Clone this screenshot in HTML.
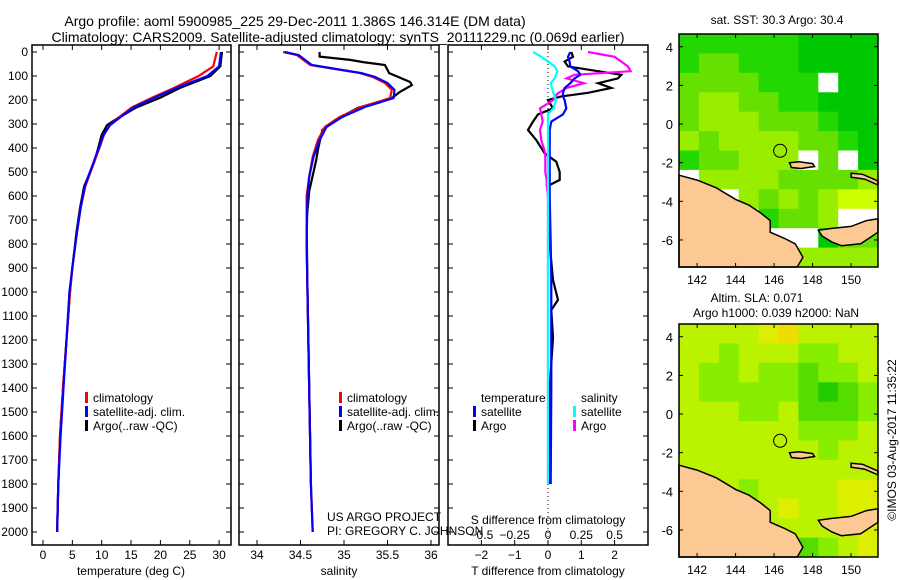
<!DOCTYPE html>
<html><head><meta charset="utf-8"><style>
body{margin:0;background:#fff;}
svg{display:block;font-family:"Liberation Sans",sans-serif;}
</style></head><body>
<svg id="s" width="900" height="580" viewBox="0 0 900 580">
<text x="295" y="26" font-size="14" text-anchor="middle">Argo profile: aoml 5900985_225 29-Dec-2011 1.386S 146.314E (DM data)</text>
<text x="338" y="42" font-size="14" text-anchor="middle">Climatology: CARS2009. Satellite-adjusted climatology: synTS_20111229.nc (0.069d earlier)</text>
<text x="777" y="24" font-size="12" text-anchor="middle">sat. SST: 30.3 Argo: 30.4</text>
<text x="757" y="302" font-size="12" text-anchor="middle">Altim. SLA: 0.071</text>
<text x="776" y="317" font-size="12" text-anchor="middle">Argo h1000: 0.039 h2000: NaN</text>
<text transform="translate(896,440) rotate(-90)" font-size="12" text-anchor="middle">©IMOS 03-Aug-2017 11:35:22</text>
<text x="327" y="521" font-size="12">US ARGO PROJECT</text>
<text x="327" y="535" font-size="12">PI: GREGORY C. JOHNSON</text>
</svg>
<script>
// ---- profile data ----
const depthTicks=[0,100,200,300,400,500,600,700,800,900,1000,1100,1200,1300,1400,1500,1600,1700,1800,1900,2000];
const tTicks=[0,5,10,15,20,25,30];
const sTicks=[34,34.5,35,35.5,36];
const tdTicks=[-2,-1,0,1,2];
const sdTicks=[-0.5,-0.25,0,0.25,0.5];
const tDepth=[0,60,100,150,190,230,275,305,345,400,460,560,650,750,900,1000,1200,1400,1600,1800,2000];
const tArgo=[30.5,30.2,28.5,23.3,20,16,12.8,10.9,10,9.4,8.7,7,6.3,5.7,5.0,4.6,4.0,3.4,2.9,2.6,2.4];
const tClim=[29.6,29,26.5,22.3,18.6,15.2,12.8,11.4,10.4,9.6,8.7,7.2,6.4,5.8,5.0,4.6,4.0,3.4,2.9,2.6,2.4];
const tSat=[30.3,30.0,28,22.7,19,15.5,13,11.4,10.3,9.5,8.6,7.1,6.4,5.8,5.0,4.5,4.0,3.5,3.0,2.6,2.4];
const sDepth=[0,13,54,88,104,129,158,192,229,271,312,367,437,520,600,800,1000,1400,1800,2000];
const sClim=[34.3,34.46,34.61,35.18,35.33,35.47,35.55,35.53,35.2,34.95,34.78,34.70,34.64,34.6,34.57,34.57,34.58,34.6,34.62,34.64];
const sSat=[34.32,34.48,34.63,35.2,35.36,35.5,35.58,35.57,35.24,34.98,34.8,34.72,34.65,34.6,34.58,34.57,34.58,34.6,34.62,34.64];
const saDepth=[0,19,33,42,54,88,125,138,167,192,233,283,325,408,450,580,700,1000,1400,1800];
const sArgo=[34.72,34.72,35.07,35.22,35.47,35.52,35.76,35.78,35.64,35.55,35.16,34.9,34.75,34.7,34.68,34.6,34.57,34.58,34.6,34.62];
const dDepth=[0,20,40,60,80,95,110,130,150,170,185,200,235,260,290,325,367,422,457,500,533,554,600,800,950,1033,1075,1190,1400,1800];
const tdArgo=[0.7,0.75,0.5,0.6,1.5,2.2,2.1,1.5,1.9,1.2,0.4,0.0,0.15,-0.3,-0.45,-0.6,-0.35,-0.1,0.25,0.35,0.35,0.05,0.0,0.05,0.15,0.3,0.1,0.15,0.05,0.03];
const tdSat=[0.67,0.6,0.65,0.67,0.9,0.97,0.8,0.67,0.5,0.45,0.45,0.5,0.55,0.45,0.1,0.05,0.05,0.05,0.05,0.05,0.05,0.05,0.05,0.08,0.1,0.1,0.1,0.1,0.1,0.08];
const sdArgo=[0.3,0.5,0.55,0.6,0.62,0.2,0.14,0.27,0.14,0.08,0.05,0.04,-0.06,-0.05,-0.04,-0.06,-0.05,-0.02,-0.02,-0.02,-0.01,-0.01,0,0,0,0,0,0,0,0];
const sdSat=[-0.11,-0.05,0.0,0.05,0.07,0.06,0.05,0.02,0.03,0.04,0.05,0.06,0.04,0.0,0.0,0.0,0.0,0.0,0.0,0.0,0.0,0.0,0.0,0.0,0.0,0.0,0.0,0.0,0.0,0.0];
// ---- map data (coarse grid, rows top->bottom, -1 = no data) ----
const sstRows=[
[1,1,1,1,1,1,0,0,0,0],[1,2,2,1,1,1,0,0,0,0],[2,2,2,2,1,1,1,-1,0,0],[2,3,3,2,2,1,1,0,0,0],
[2,3,3,3,2,2,2,1,0,0],[3,2,3,3,3,3,2,2,1,0],[1,2,2,3,3,3,-1,2,-1,0],[-1,3,3,3,3,2,2,2,2,3],
[2,2,-1,3,2,3,2,3,4,4],[2,2,2,-1,1,2,2,3,-1,-1],[2,2,2,2,-1,-1,-1,0,2,2],[2,2,2,2,2,-1,3,3,3,3]];
const slaRows=[
[3,3,3,3,4,5,3,3,3,3],[3,3,2,3,3,3,2,2,3,3],[3,2,2,3,2,2,1,2,2,3],[3,2,2,2,2,2,1,0,1,2],
[3,3,3,2,2,3,1,1,1,2],[3,3,3,3,3,3,2,2,2,3],[3,3,3,3,3,3,3,2,3,3],[3,3,3,3,3,3,3,3,3,3],
[3,3,3,2,3,3,3,3,4,4],[3,3,3,3,3,4,3,3,4,4],[3,3,3,3,3,3,3,3,3,4],[3,3,3,3,3,2,1,2,3,4]];
const latTicks=[4,2,0,-2,-4,-6];
const lonTicks=[142,144,146,148,150];
const argoPos=[146.314,-1.386];
const pngLand=[[141.06,-2.65],[142,-2.9],[143,-3.3],[144,-3.9],[144.7,-4.2],[145.3,-4.6],[145.8,-5.0],[145.8,-5.6],[146.5,-5.9],[147.1,-6.2],[147.5,-6.9],[147.2,-7.4],[141.06,-7.4]];
const nbLand=[[148.3,-5.5],[149,-5.4],[150,-5.3],[150.8,-5.0],[151.4,-4.9],[151.4,-5.6],[150.5,-6.2],[149.5,-6.3],[149,-6.1],[148.5,-5.8]];
const manus=[[146.8,-2.0],[147.3,-1.95],[148.0,-2.05],[148.1,-2.2],[147.4,-2.3],[146.9,-2.25]];
const nIre=[[150.0,-2.55],[150.6,-2.6],[151.4,-2.95],[151.4,-3.15],[150.7,-2.85],[150.0,-2.75]];

const S=document.getElementById('s');const NS='http://www.w3.org/2000/svg';
function mk(t,a,p){const e=document.createElementNS(NS,t);for(const k in a)e.setAttribute(k,a[k]);(p||S).appendChild(e);return e;}
const yTop=52,yBot=545;
function yD(d){return yTop+0.24*d;}
function xT(v){return 43+v*5.87;}
function xS(v){return 257+(v-34)*87;}
function xTd(v){return 548+v*33.3;}
function xSd(v){return 548+v*133.2;}
function box(x0,x1,name){const r=mk('rect',{x:x0,y:45,width:x1-x0,height:yBot-45,fill:'none',stroke:'#000','stroke-width':1.5});


depthTicks.forEach(d=>{mk('line',{x1:x0,x2:x0+5,y1:yD(d),y2:yD(d),stroke:'#000'});mk('line',{x1:x1-5,x2:x1,y1:yD(d),y2:yD(d),stroke:'#000'});});}
const P=[[32,231,'temperature-panel'],[239,439,'salinity-panel'],[448,648,'difference-panel']];
P.forEach(p=>box(p[0],p[1],p[2]));
depthTicks.forEach(d=>{const t=mk('text',{x:28,y:yD(d)+4,'font-size':12,'text-anchor':'end'});t.textContent=d;

});
function xticks(arr,fx,ty,fmt){arr.forEach(v=>{const x=fx(v);mk('line',{x1:x,x2:x,y1:45,y2:50,stroke:'#000'});mk('line',{x1:x,x2:x,y1:yBot-5,y2:yBot,stroke:'#000'});
const t=mk('text',{x:x,y:ty,'font-size':12,'text-anchor':'middle'});t.textContent=fmt?fmt(v):v;

});}
xticks(tTicks,xT,559);xticks(sTicks,xS,559);xticks(tdTicks,xTd,559,v=>v<0?'−'+(-v):v);
sdTicks.forEach(v=>{const t=mk('text',{x:xSd(v),y:539,'font-size':12,'text-anchor':'middle'});t.textContent=v<0?'−'+(-v):v;

});
[['temperature (deg C)',131,575,'temperature-axis-title'],['salinity',339,575,'salinity-axis-title'],['T difference from climatology',548,575,'t-diff-axis-title'],['S difference from climatology',548,524,'s-diff-axis-title']].forEach(a=>{
const t=mk('text',{x:a[1],y:a[2],'font-size':12,'text-anchor':'middle'});t.textContent=a[0];

});
mk('line',{x1:548,x2:548,y1:yTop,y2:yBot,stroke:'#000','stroke-dasharray':'1 3'});
function line(depths,vals,fx,col,name){const pts=depths.map((d,i)=>fx(vals[i]).toFixed(1)+','+yD(d).toFixed(1)).join(' ');
const e=mk('polyline',{points:pts,fill:'none',stroke:col,'stroke-width':2.2});

}
line(tDepth,tArgo,xT,'#000','temp-argo-line');line(tDepth,tClim,xT,'#f00','temp-clim-line');line(tDepth,tSat,xT,'#00f','temp-sat-line');
line(saDepth,sArgo,xS,'#000','sal-argo-line');line(sDepth,sClim,xS,'#f00','sal-clim-line');line(sDepth,sSat,xS,'#00f','sal-sat-line');
line(dDepth,tdArgo,xTd,'#000','tdiff-argo-line');line(dDepth,sdArgo,xSd,'#f0f','sdiff-argo-line');
line(dDepth,tdSat,xTd,'#00f','tdiff-sat-line');line(dDepth,sdSat,xSd,'#0ff','sdiff-sat-line');
function leg(x,y,col,txt,name){mk('rect',{x:x,y:y-10,width:3,height:11,fill:col});const t=mk('text',{x:x+8,y:y,'font-size':12});t.textContent=txt;

}
[85,339].forEach(x=>{leg(x,402,'#f00','climatology','legend-climatology');leg(x,416,'#00f','satellite-adj. clim.','legend-satellite-adj');leg(x,430,'#000','Argo(..raw -QC)','legend-argo');});
let tt=mk('text',{x:481,y:402,'font-size':12});tt.textContent='temperature';


tt=mk('text',{x:581,y:402,'font-size':12});tt.textContent='salinity';


leg(473,416,'#00f','satellite','legend-t-satellite');leg(473,430,'#000','Argo','legend-t-argo');
leg(573,416,'#0ff','satellite','legend-s-satellite');leg(573,430,'#f0f','Argo','legend-s-argo');
// ---- maps ----
const sstCol=['#00c800','#22d800','#66e000','#99ee00','#ccff00'];
const slaCol=['#22cc00','#55dd00','#88ee00','#bbf200','#ddee00','#eedd00'];
function drawMap(y0,rows,cols,name,lblY){const x0=679,w=199,h=233,lon0=141.06,lon1=151.4,lat0=4.66,lat1=-7.4;
const fx=l=>x0+(l-lon0)/(lon1-lon0)*w, fy=l=>y0+(lat0-l)/(lat0-lat1)*h;
const g=mk('g',{});


const nr=rows.length,nc=rows[0].length;
rows.forEach((r,i)=>r.forEach((v,j)=>{mk('rect',{x:(x0+j*w/nc).toFixed(1),y:(y0+i*h/nr).toFixed(1),width:(w/nc+0.5).toFixed(1),height:(h/nr+0.5).toFixed(1),fill:v<0?'#fff':cols[v]},g);}));
[pngLand,nbLand,manus,nIre].forEach(poly=>mk('polygon',{points:poly.map(p=>fx(p[0]).toFixed(1)+','+fy(p[1]).toFixed(1)).join(' '),fill:'#fcc994',stroke:'#000','stroke-width':1.5},g));
const c=mk('circle',{cx:fx(argoPos[0]),cy:fy(argoPos[1]),r:6.5,fill:'none',stroke:'#000'},g);


mk('rect',{x:x0,y:y0,width:w,height:h,fill:'none',stroke:'#000','stroke-width':1.5},g);
latTicks.forEach(l=>{const y=fy(l);mk('line',{x1:x0,x2:x0+4,y1:y,y2:y,stroke:'#000'},g);mk('line',{x1:x0+w-4,x2:x0+w,y1:y,y2:y,stroke:'#000'},g);
const t=mk('text',{x:673,y:y+5,'font-size':13,'text-anchor':'end'},g);t.textContent=l<0?'-'+(-l):l;

});
lonTicks.forEach(l=>{const x=fx(l);mk('line',{x1:x,x2:x,y1:y0,y2:y0+4,stroke:'#000'},g);mk('line',{x1:x,x2:x,y1:y0+h-4,y2:y0+h,stroke:'#000'},g);
const t=mk('text',{x:x,y:lblY,'font-size':12,'text-anchor':'middle'},g);t.textContent=l;

});}
drawMap(34,sstRows,sstCol,'sst-map',284);
drawMap(324,slaRows,slaCol,'sla-map',574);
</script>
</body></html>
